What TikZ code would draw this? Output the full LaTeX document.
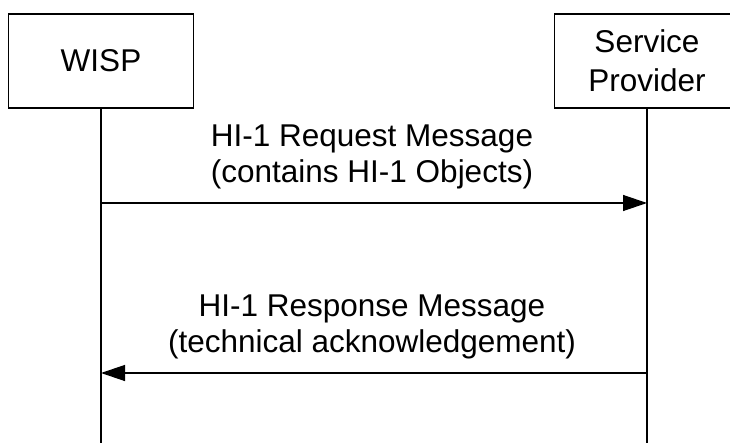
\documentclass[tikz,border=0pt]{standalone}
\usepackage{fontspec}
\setmainfont{Liberation Sans}
\usetikzlibrary{arrows.meta}

\begin{document}
\begin{tikzpicture}[x=1pt,y=-1pt,
    party/.style={rectangle, draw, line width=1.3pt, minimum width=185pt,
    minimum height=94pt, inner sep=0pt, align=center,
    font=\fontsize{31.5}{39}\selectfont},
    msg/.style={inner sep=0pt, align=center, font=\fontsize{31.5}{36.7}\selectfont},
    life/.style={line width=1.3pt},
    >={Triangle[length=24pt,width=16pt]}]
  \path[use as bounding box, clip] (0,0) rectangle (730,443);
  \node[party] (wisp) at (101,61) {WISP};
  \node[party] (sp) at (647,61) {Service\\Provider};
  \coordinate (wispend) at (wisp.south |- 0,443);
  \coordinate (spend) at (sp.south |- 0,443);
  \draw[life] (wisp) -- (wispend);
  \draw[life] (sp) -- (spend);
  \coordinate (reqA) at (wisp.south |- 0,203);
  \coordinate (reqB) at (sp.south |- 0,203);
  \coordinate (resA) at (wisp.south |- 0,373);
  \coordinate (resB) at (sp.south |- 0,373);
  \draw[life,->] (reqA) -- (reqB);
  \draw[life,->] (resB) -- (resA);
  \node[msg] (reqtext) at (372,157) {HI-1 Request Message\\(contains HI-1 Objects)};
  \node[msg] (restext) at (372,327) {HI-1 Response Message\\(technical acknowledgement)};
\end{tikzpicture}
\end{document}
